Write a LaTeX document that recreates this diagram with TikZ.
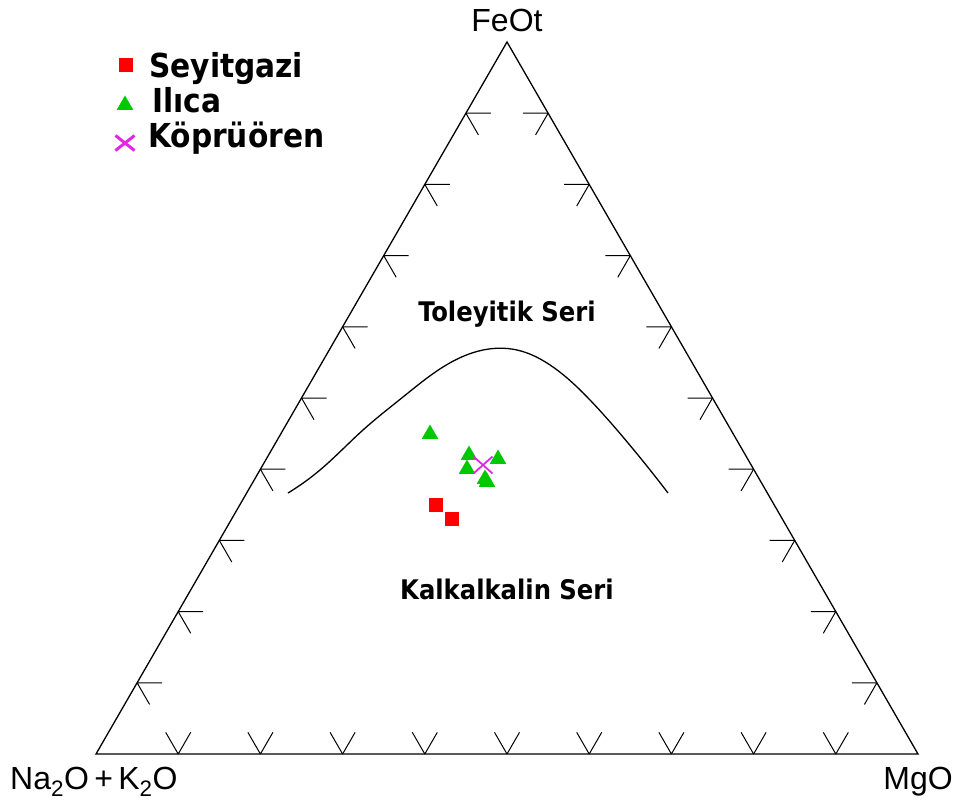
\documentclass[tikz,border=0pt]{standalone}
\usepackage{fontspec}
\setmainfont{Liberation Sans}
\newfontfamily\legendfont{DejaVu Sans Condensed}
\usetikzlibrary{hobby, shapes.geometric, shapes.misc}

\definecolor{ptgreen}{RGB}{0,200,0}
\definecolor{ptmagenta}{RGB}{225,40,225}
\tikzset{
	tickmark/.style = {line width=1pt},
	seyitgazi/.style = {rectangle, fill=red, minimum size=14pt, inner sep=0pt},
	ilica/.style = {regular polygon, regular polygon sides=3, fill=ptgreen, minimum size=19pt, inner sep=0pt},
	kopruoren/.style = {cross out, draw=ptmagenta, line width=1.8pt, minimum width=17pt, minimum height=15pt, inner sep=0pt},
	axislabel/.style = {font=\fontsize{32}{36}\selectfont, inner sep=0pt},
	legendlabel/.style = {font=\legendfont\bfseries\fontsize{33}{36}\selectfont, anchor=base west, inner sep=0pt},
	fieldlabel/.style = {font=\legendfont\bfseries\fontsize{27}{30}\selectfont, inner sep=0pt}
}

\begin{document}
\begin{tikzpicture}[x=1pt, y=-1pt]
		\useasboundingbox (0,0) rectangle (955,803);
		% corners of the AFM triangle
		\coordinate (na) at (96,754);
		\coordinate (mg) at (918,754);
		\coordinate (fe) at (507,42);
		\draw[line width=1.3pt] (na) -- (mg) -- (fe) -- cycle;
		\foreach \k in {1,...,9} {
			\draw[tickmark] ({96+\k*82.2},754) -- ++(-12.5,-21.65) ({96+\k*82.2},754) -- ++(12.5,-21.65);
			\draw[tickmark] ({96+\k*41.1},{754-\k*71.2}) -- ++(25,0) ({96+\k*41.1},{754-\k*71.2}) -- ++(12.5,21.65);
			\draw[tickmark] ({918-\k*41.1},{754-\k*71.2}) -- ++(-25,0) ({918-\k*41.1},{754-\k*71.2}) -- ++(-12.5,21.65);
		}
		\node[axislabel, anchor=base] (feot) at (507,31) {FeOt};
		\node[axislabel, anchor=base west] (alk) at (10,789) {Na\textsubscript{2}O\,+\,K\textsubscript{2}O};
		\node[axislabel, anchor=base east] (mgo) at (953,789) {MgO};
		% Irvine & Baragar boundary
		\draw[line width=1.3pt] (288,493) to[curve through={(320,470) (363,430) (403,397) (443,367) (483,350) (517,350) (553,367) (590,400) (623,437)}] (668,493);
		\node[fieldlabel] (tol) at (507,314) {Toleyitik Seri};
		\node[fieldlabel] (calc) at (507,589) {Kalkalkalin Seri};
		% samples
		\node[seyitgazi] (s1) at (436,505) {};
		\node[seyitgazi] (s2) at (452,519) {};
		\node[ilica] (i1) at (430,434) {};
		\node[ilica] (i2) at (469,455) {};
		\node[ilica] (i3) at (467,469) {};
		\node[ilica] (i4) at (498,459) {};
		\node[ilica] (i5) at (485,479) {};
		\node[ilica] (i6) at (487,482) {};
		\node[kopruoren] (k1) at (483,465) {};
		% legend
		\node[seyitgazi] (keys) at (126,65) {};
		\node[legendlabel] (legs) at (149,77) {Seyitgazi};
		\node[ilica] (keyi) at (125,105) {};
		\node[legendlabel] (legi) at (152,112) {Ilıca};
		\node[kopruoren, line width=3pt, minimum width=16pt, minimum height=12pt] (keyk) at (125,143) {};
		\node[legendlabel] (legk) at (148,147) {Köprüören};
	\end{tikzpicture}
\end{document}
